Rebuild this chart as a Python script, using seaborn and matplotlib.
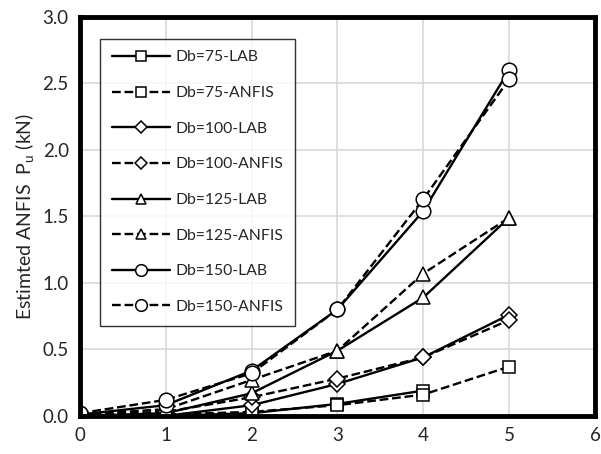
import seaborn as sns
import matplotlib.pyplot as plt
import pandas as pd

# Valeurs
x_full = [0, 1, 2, 3, 4, 5]
x_75_lab = [0, 1, 2, 3, 4]

lab_75 = [0.00, 0.00, 0.02, 0.09, 0.19]
anfis_75 = [0.01, 0.01, 0.03, 0.08, 0.16, 0.37]
lab_100 = [0.00, 0.00, 0.08, 0.24, 0.44, 0.76]
anfis_100 = [0.01, 0.03, 0.14, 0.28, 0.44, 0.72]
lab_125 = [0.00, 0.02, 0.17, 0.49, 0.89, 1.49]
anfis_125 = [0.01, 0.05, 0.27, 0.49, 1.07, 1.49]
lab_150 = [0.01, 0.08, 0.34, 0.80, 1.54, 2.60]
anfis_150 = [0.02, 0.12, 0.32, 0.80, 1.63, 2.53]

series = [
    ("Db=75-LAB", x_75_lab, lab_75, "s", "-"),
    ("Db=75-ANFIS", x_full, anfis_75, "s", "--"),
    ("Db=100-LAB", x_full, lab_100, "D", "-"),
    ("Db=100-ANFIS", x_full, anfis_100, "D", "--"),
    ("Db=125-LAB", x_full, lab_125, "^", "-"),
    ("Db=125-ANFIS", x_full, anfis_125, "^", "--"),
    ("Db=150-LAB", x_full, lab_150, "o", "-"),
    ("Db=150-ANFIS", x_full, anfis_150, "o", "--"),
]

sns.set_style("white")
plt.rcParams['font.family'] = ['Lato', 'DejaVu Sans']

fig = plt.figure(figsize=(6.01, 4.54), dpi=100)
ax = fig.add_axes([0.133, 0.084, 0.857, 0.879])

for label, xs, ys, mk, ls in series:
    df = pd.DataFrame({"x": xs, "y": ys})
    msize = {"s": 9, "D": 8, "^": 9.5, "o": 10.5}[mk]
    sns.lineplot(data=df, x="x", y="y", ax=ax, color="black", linestyle=ls,
                 linewidth=1.7, marker=mk, markersize=msize,
                 markerfacecolor="white", markeredgecolor="black",
                 markeredgewidth=1.1, label=label)

ax.set_xlim(0, 6)
ax.set_ylim(0, 3.0)
ax.set_xticks(range(0, 7))
ax.set_yticks([0, 0.5, 1.0, 1.5, 2.0, 2.5, 3.0])
ax.set_yticklabels([f"{v:.1f}" for v in ax.get_yticks()])
ax.grid(True, color="#d9d9d9", linewidth=1.2)
ax.set_axisbelow(True)
for sp in ax.spines.values():
    sp.set_linewidth(3.5)
    sp.set_color("black")
ax.tick_params(axis="both", length=0, labelsize=13.5, pad=8)
ax.set_xlabel("")
ax.set_ylabel(r"Estimted ANFIS  P$_\mathregular{u}$ (kN)", fontsize=14)

leg = ax.legend(loc="upper left", bbox_to_anchor=(0.024, 0.965), fontsize=11.3,
                frameon=True, fancybox=False, edgecolor="black",
                handlelength=3.7, labelspacing=1.38, borderpad=0.75,
                handletextpad=0.35, markerscale=0.8)
leg.get_frame().set_linewidth(1.0)

fig.savefig("out.png", dpi=100)
